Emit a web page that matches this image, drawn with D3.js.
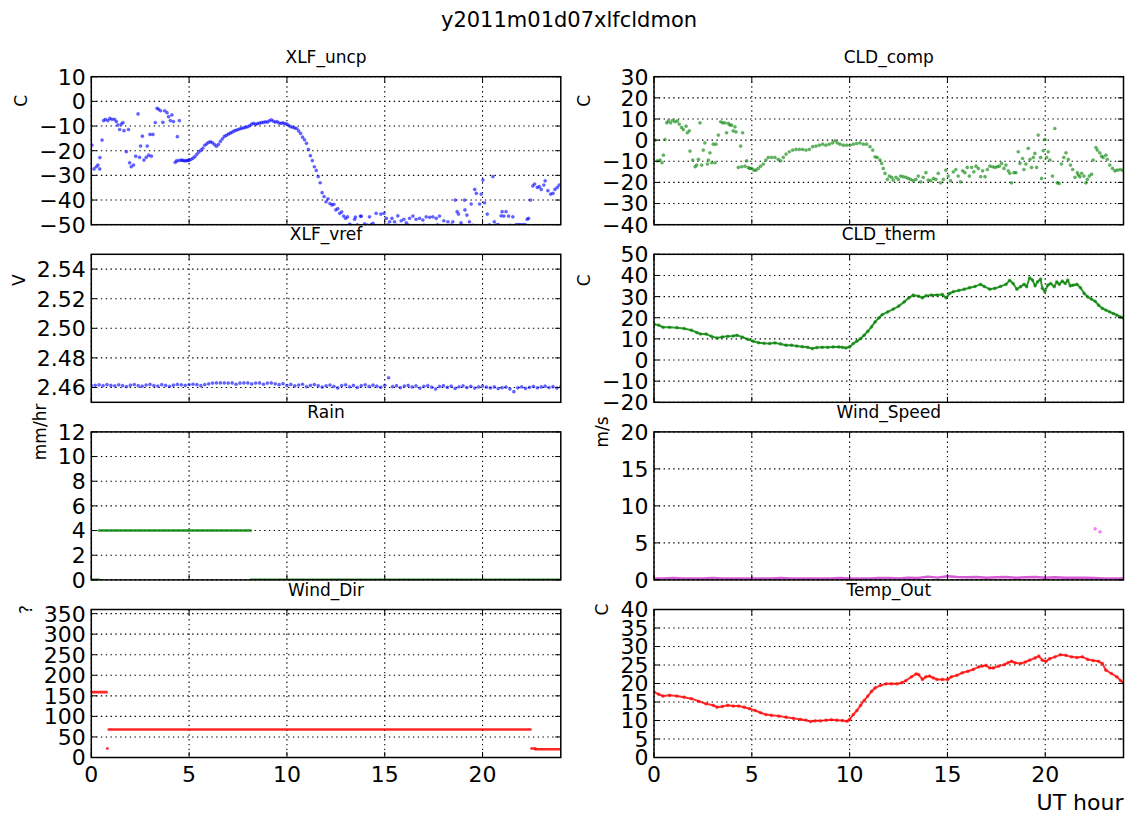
<!DOCTYPE html>
<html>
<head>
<meta charset="utf-8">
<script src="https://cdn.jsdelivr.net/npm/d3@7"></script>
<style>
  body { margin: 0; background: #fff; }
  svg { display: block; font-family: "DejaVu Sans", sans-serif; }
</style>
</head>
<body>
<div id="chart"></div>
<script>
const figTitle = "y2011m01d07xlfcldmon";
const xLabel = "UT hour";
const hourTicks = [0, 5, 10, 15, 20];

// tick values per panel
const xlfUncpTicks = [-50, -40, -30, -20, -10, 0, 10];
const cldCompTicks = [-40, -30, -20, -10, 0, 10, 20, 30];
const xlfVrefTicks = [2.46, 2.48, 2.5, 2.52, 2.54];
const cldThermTicks = [-20, -10, 0, 10, 20, 30, 40, 50];
const rainTicks = [0, 2, 4, 6, 8, 10, 12];
const windSpeedTicks = [0, 5, 10, 15, 20];
const windDirTicks = [0, 50, 100, 150, 200, 250, 300, 350];
const tempOutTicks = [0, 5, 10, 15, 20, 25, 30, 35, 40];

// [hour, value] readings
const xlfUncp = [
  [0.03,-17.7],[0.14,-27.4],[0.26,-26.5],[0.34,-25.8],[0.43,-27.4],[0.44,-22.8],[0.55,-15.7],[0.63,-7.8],
  [0.72,-7.3],[0.85,-7.8],[0.95,-6.9],[1.06,-7.3],[1.19,-7.3],[1.28,-8.2],[1.36,-9.6],[1.45,-11.4],
  [1.53,-9.2],[1.62,-8.6],[1.67,-11.9],[1.79,-20.4],[1.9,-11.4],[1.96,-24.9],[2.04,-26.5],[2.16,-25.8],
  [2.27,-22.2],[2.39,-5.1],[2.47,-22.7],[2.52,-18.1],[2.61,-14.1],[2.69,-23.8],[2.81,-22.7],[2.86,-18.1],
  [2.93,-21.8],[3.0,-13.4],[3.07,-22.2],[3.15,-13.4],[3.27,-8.6],[3.36,-2.8],[3.44,-3.2],[3.54,-3.8],
  [3.66,-8.5],[3.75,-3.8],[3.87,-4.6],[3.95,-6.2],[4.04,-7.8],[4.12,-5.5],[4.2,-8.2],[4.29,-24.7],
  [4.36,-24.1],[4.4,-14.3],[4.47,-24.0],[4.5,-7.8],[4.58,-23.8],[4.65,-23.9],[4.72,-24.0],[4.8,-24.1],
  [4.88,-24.0],[4.95,-23.9],
  [5.0,-23.9],[5.1,-23.5],[5.2,-23.0],[5.3,-22.4],[5.4,-21.4],[5.5,-20.5],[5.6,-19.8],[5.7,-19.0],
  [5.8,-17.8],[5.9,-17.2],[6.0,-16.6],[6.1,-16.4],[6.2,-16.8],[6.3,-17.5],[6.4,-18.2],[6.5,-17.4],
  [6.6,-16.2],[6.7,-15.2],[6.8,-14.2],[6.9,-13.8],[7.0,-13.3],[7.1,-12.9],[7.2,-12.5],[7.3,-12.0],
  [7.4,-11.7],[7.5,-11.4],[7.6,-11.1],[7.7,-10.9],[7.8,-10.7],[7.9,-10.5],[8.0,-10.3],[8.1,-9.8],
  [8.2,-9.2],[8.3,-8.9],[8.4,-9.3],[8.5,-9.0],[8.6,-8.8],[8.7,-8.6],[8.8,-8.5],[8.9,-8.3],
  [9.0,-8.4],[9.1,-7.9],[9.2,-7.5],[9.3,-8.0],[9.4,-8.4],[9.5,-8.2],[9.6,-8.8],[9.7,-8.9],
  [9.8,-8.7],[9.9,-9.0],[10.0,-9.2],[10.1,-9.8],[10.2,-10.3],[10.3,-10.5],[10.4,-10.8],[10.5,-11.0],
  [10.6,-12.0],[10.7,-13.0],[10.8,-14.5],[10.9,-15.6],[11.0,-17.0],[11.1,-19.5],[11.2,-22.0],[11.3,-24.0],
  [11.4,-26.5],[11.5,-28.0],[11.6,-30.5],[11.7,-33.0],[11.8,-37.0],[11.9,-38.6],[12.0,-40.7],[12.1,-39.5],
  [12.2,-41.4],[12.3,-42.0],[12.4,-41.7],[12.5,-44.0],[12.6,-43.5],[12.7,-45.4],[12.8,-44.8],[12.9,-46.5],
  [13.0,-47.4],[13.1,-46.8],[13.2,-49.8],
  [13.46,-47.8],[13.5,-46.9],[13.76,-46.5],[13.8,-46.6],[13.97,-49.7],[14.22,-46.8],[14.4,-49.5],[14.56,-45.4],
  [14.8,-45.7],[14.96,-45.4],[15.08,-47.4],[15.25,-48.8],[15.37,-47.4],[15.5,-48.8],[15.67,-46.4],[15.84,-48.4],
  [15.98,-47.8],[16.1,-49.2],[16.27,-47.4],[16.44,-46.5],[16.6,-47.8],[16.78,-47.4],[16.95,-48.1],[17.12,-46.8],
  [17.3,-47.0],[17.46,-46.8],[17.63,-47.4],[17.8,-46.5],[18.02,-48.4],[18.23,-48.8],[18.48,-48.8],[18.6,-40.0],
  [18.7,-44.7],[18.77,-45.7],[18.9,-49.2],[19.08,-40.0],[19.1,-44.0],[19.2,-46.1],[19.33,-48.8],[19.42,-41.6],
  [19.6,-35.7],[19.68,-37.3],[19.85,-41.6],[19.93,-37.6],[20.02,-31.9],[20.1,-41.1],[20.24,-45.7],[20.53,-30.5],
  [20.6,-48.8],[20.95,-46.4],[21.0,-44.7],[21.09,-46.5],[21.2,-44.7],[21.33,-46.5],[21.55,-46.8],[22.28,-47.8],
  [22.35,-47.4],[22.45,-40.0],[22.57,-34.3],[22.66,-33.5],[22.8,-34.9],[22.9,-34.6],[23.0,-35.7],[23.13,-33.9],
  [23.2,-32.2],[23.34,-36.2],[23.48,-37.6],[23.6,-37.3],[23.7,-35.7],[23.82,-34.9],[23.92,-33.9],
  [13.3,-50.3],[13.6,-50.1],[13.9,-50.5],[14.1,-50.2],[14.3,-50.0],[14.7,-50.4],[15.15,-50.1],[15.6,-50.3],
  [16.2,-50.2],[16.5,-50.6],[17.0,-50.3],[17.7,-50.1],[18.1,-50.4],[18.4,-50.2],[19.5,-50.3],[20.35,-50.1],
  [20.7,-50.2],[20.8,-50.0],[21.4,-50.3],[21.7,-50.1],[21.8,-50.0],[21.9,-50.0],[22.0,-50.1],[22.1,-50.0],[22.2,-50.1]
];

const cldComp = [
  [0.05,0],[0.17,-9.8],[0.31,-9.4],[0.41,-10.7],[0.48,-7.1],[0.56,0.3],[0.65,8.2],[0.73,9.1],
  [0.85,8.2],[0.95,9.4],[1.07,8.7],[1.19,9.1],[1.29,7.6],[1.41,6],[1.5,5],[1.64,6.6],
  [1.7,3.5],[1.8,4.4],[1.84,-5.2],[1.98,-9.4],[2.1,-12.6],[2.18,-11.8],[2.27,-9.1],[2.35,8.2],
  [2.44,-11.8],[2.52,-4.7],[2.6,-1.3],[2.73,-11.3],[2.78,-9.4],[2.86,-6],[2.95,-10.7],[3.03,-1.9],
  [3.12,-10.7],[3.17,-1.9],[3.29,2.4],[3.41,8.7],[3.51,8.2],[3.63,8.2],[3.71,3.5],[3.8,7.9],
  [3.88,7.1],[3.97,7.1],[4.05,4.4],[4.14,6.3],[4.19,3.9],[4.31,-12.9],[4.43,-2.8],[4.48,-12.6],
  [4.53,3.5],[4.65,-12.3],[4.74,-9.8],[4.82,-13],[4.9,-13.4],[4.99,-13.4],[5.11,-14.2],[5.21,-14.2],
  [5.33,-13.4],[5.45,-12.3],[5.59,-11.3],[5.72,-9.4],[5.84,-8.2],[6.01,-8.2],[6.18,-8.2],[6.35,-9.1],
  [6.47,-9.8],[6.61,-8.2],[6.75,-6.6],[6.92,-5.5],[7.09,-4.7],[7.26,-4.4],[7.43,-4.4],[7.6,-4.4],
  [7.77,-4.7],[7.94,-4.4],[8.11,-3.1],[8.28,-2.8],[8.45,-2.4],[8.62,-1.9],[8.79,-2.4],[8.96,-1.9],
  [9.13,-1.3],[9.25,-0.3],[9.37,-1.3],[9.51,-1.9],[9.68,-2.4],[9.85,-2.4],[10.02,-2.4],[10.19,-1.9],
  [10.36,-1.6],[10.53,-1.3],[10.7,-1.9],[10.87,-1.9],[11.04,-3.1],[11.18,-4.7],[11.3,-7.9],[11.41,-8.2],
  [11.55,-9.4],[11.64,-11],[11.72,-13.4],[11.81,-15.7],[11.93,-18.6],[12.03,-17],[12.15,-17.6],[12.23,-18.9],
  [12.37,-17.6],[12.49,-18.6],[12.61,-17],[12.74,-17.3],[12.88,-17.6],[13.0,-18.1],[13.12,-18.6],[13.25,-19.2],
  [13.39,-18.6],[13.51,-17],[13.63,-19.7],[13.76,-17.6],[13.9,-15.4],[14.02,-18.9],[14.14,-19.2],[14.28,-18.1],
  [14.41,-18.6],[14.53,-15.7],[14.65,-20.2],[14.79,-18.6],[14.92,-14.2],[15.04,-17],[15.16,-19.2],[15.3,-15],
  [15.43,-13.9],[15.55,-17],[15.67,-19.7],[15.78,-14.5],[15.89,-15.4],[16.01,-12.9],[16.12,-17],[16.24,-12.9],
  [16.35,-15],[16.46,-12.3],[16.58,-13.4],[16.7,-17.3],[16.8,-14.5],[16.92,-17.3],[17.04,-13.9],[17.17,-12.3],
  [17.31,-12.6],[17.43,-12.9],[17.55,-12.6],[17.65,-12.3],[17.77,-11],[17.89,-13.4],[17.99,-11.8],[18.11,-14.5],
  [18.19,-15.7],[18.28,-20.2],[18.4,-15.4],[18.5,-15.4],[18.62,-5.5],[18.71,-11],[18.84,-8.7],[18.91,-13.9],
  [19.01,-11.3],[19.13,-3.9],[19.22,-9.1],[19.3,-12.9],[19.39,-8.2],[19.47,-6.3],[19.56,-12.9],[19.64,2.4],
  [19.76,-8.2],[19.81,-18.1],[19.9,-5],[19.98,0.3],[20.07,-8.2],[20.15,-5.5],[20.24,-9.4],[20.37,-17],
  [20.49,5.5],[20.61,-20.2],[20.71,-20.5],[20.83,-11.3],[20.95,-8.2],[21.06,-6],[21.18,-9.1],[21.29,-11.8],
  [21.4,-13.9],[21.52,-17.6],[21.64,-15.4],[21.69,-16.5],[21.77,-17.3],[21.86,-15.7],[21.98,-17],[22.08,-20.2],
  [22.15,-18.6],[22.25,-17],[22.37,-16.1],[22.45,-9.4],[22.59,-3.5],[22.66,-4.7],[22.79,-6],[22.88,-7.6],
  [22.96,-8.2],[23.1,-7.1],[23.17,-9.1],[23.3,-11.8],[23.44,-13.4],[23.56,-14.5],[23.68,-14.2],[23.82,-13.9],[23.95,-14.2]
];

// XLF_vref sampled every 0.2 h from 0 to 24
const xlfVref = [
  2.4612, 2.4615, 2.4618, 2.4612, 2.4620, 2.4614, 2.4611, 2.4618, 2.4613, 2.4606, 2.4616, 2.4620,
  2.4612, 2.4609, 2.4617, 2.4621, 2.4613, 2.4610, 2.4619, 2.4614, 2.4608, 2.4616, 2.4621,
  2.4618, 2.4614, 2.4620, 2.4622, 2.4619, 2.4612, 2.4620, 2.4625, 2.4630, 2.4631, 2.4631, 2.4631,
  2.4630, 2.4631, 2.4622, 2.4630, 2.4631, 2.4631, 2.4624, 2.4630,
  2.4631, 2.4622, 2.4630, 2.4631, 2.4625, 2.4619, 2.4626, 2.4613, 2.4621, 2.4611, 2.4617, 2.4622,
  2.4606, 2.4614, 2.4620, 2.4612, 2.4603, 2.4611,
  2.4617, 2.4608, 2.4597, 2.4613, 2.4618, 2.4605, 2.4614, 2.4600, 2.4612, 2.4618, 2.4607, 2.4616,
  2.4609, 2.4601, 2.4615, 2.4666, 2.4606, 2.4612, 2.4599, 2.4610,
  2.4614, 2.4604, 2.4611, 2.4596, 2.4608, 2.4613, 2.4602, 2.4590, 2.4607, 2.4612, 2.4601, 2.4609,
  2.4594, 2.4605, 2.4611, 2.4600, 2.4608, 2.4596, 2.4604, 2.4610,
  2.4602, 2.4597, 2.4604, 2.4593, 2.4599, 2.4603, 2.4590, 2.4572, 2.4598, 2.4604, 2.4594, 2.4601,
  2.4607, 2.4598, 2.4604, 2.4609, 2.4600, 2.4606, 2.4596, 2.4605
];
const xlfVrefHours = d3.range(xlfVref.length).map(i => i * 0.2);

const cldTherm = [
  [0,16.9],[0.24,16.5],[0.46,15.5],[0.8,15.5],[1.17,15.3],[1.54,14.9],[1.91,14.1],[2.19,13],
  [2.38,12.3],[2.66,12.3],[2.94,11.2],[3.22,10.4],[3.49,10.9],[3.77,11.2],[4.05,11.4],[4.24,11.7],
  [4.52,10.8],[4.8,9.8],[5.07,8.9],[5.35,8.2],[5.63,7.9],[5.91,7.8],[6.19,8.1],[6.47,7.6],
  [6.75,7],[7.03,7],[7.3,6.6],[7.58,6.3],[7.86,6],[8.09,5.4],[8.33,5.9],[8.6,6],
  [8.88,6],[9.16,6.2],[9.44,6.2],[9.63,6],[9.81,5.7],[10.0,6.2],[10.19,7.8],[10.37,8.9],
  [10.56,10.1],[10.74,11.7],[10.93,13.6],[11.12,15.7],[11.3,18],[11.49,19.9],[11.67,21.5],[11.95,22.8],
  [12.23,24.1],[12.51,25.5],[12.79,27.5],[13.03,29.4],[13.25,30.7],[13.53,30.2],[13.72,29.4],[13.9,30.4],
  [14.18,30.7],[14.46,30.7],[14.74,31],[14.93,29.4],[15.11,31.5],[15.3,32.3],[15.58,32.9],[15.86,33.5],
  [16.13,34.2],[16.41,34.8],[16.69,35.8],[16.88,34.8],[17.16,33.5],[17.43,33.9],[17.71,34.8],[17.99,35.8],
  [18.18,37.7],[18.36,36.2],[18.55,33.5],[18.74,34.7],[18.92,35.8],[19.05,34.7],[19.2,38.9],[19.35,37.8],
  [19.48,35.1],[19.61,37],[19.76,38.3],[19.85,33.9],[19.98,32.3],[20.13,35.4],[20.28,36.2],[20.46,34.7],
  [20.59,37],[20.72,35.8],[20.87,37.3],[21.02,36.2],[21.15,37.8],[21.28,35.1],[21.43,35.4],[21.62,35.8],
  [21.8,34.2],[21.99,31.5],[22.17,29.9],[22.36,28.8],[22.55,27.8],[22.73,25.9],[22.92,24.4],[23.1,23.6],
  [23.29,22.8],[23.48,22],[23.66,21.2],[23.85,20.4],[24.0,19.9]
];

const tempOut = [
  [0,17.7],[0.24,17.1],[0.46,16.6],[0.8,16.8],[1.17,16.6],[1.54,16.3],[1.91,15.9],[2.29,15.2],
  [2.66,14.5],[3.03,14.1],[3.22,13.6],[3.49,13.8],[3.77,14.1],[4.05,13.9],[4.33,13.9],[4.61,13.6],
  [4.89,13.2],[5.17,12.7],[5.45,12.1],[5.72,11.6],[6.0,11.4],[6.38,11.2],[6.75,10.9],[7.12,10.6],
  [7.49,10.3],[7.77,10.1],[8.01,9.7],[8.23,9.9],[8.51,9.9],[8.79,10.1],[9.07,10.2],[9.35,10.1],
  [9.63,10],[9.87,9.8],[10.0,10.3],[10.19,11.6],[10.37,12.7],[10.56,14.1],[10.74,15.4],[10.93,16.6],
  [11.12,17.9],[11.3,18.8],[11.58,19.5],[11.86,19.9],[12.14,19.9],[12.42,19.9],[12.66,20.2],[12.88,20.8],
  [13.16,21.8],[13.4,22.6],[13.53,22.4],[13.72,21.1],[13.9,21.8],[14.09,22],[14.28,21.5],[14.46,21.1],
  [14.74,21.1],[15.02,21.1],[15.2,21.8],[15.48,22.2],[15.76,22.9],[16.04,23.3],[16.32,23.8],[16.6,24.5],
  [16.78,24.7],[16.97,24.9],[17.16,24.2],[17.34,24.2],[17.62,24.7],[17.9,25.1],[18.09,25.6],[18.27,26],
  [18.46,25.6],[18.74,25.4],[18.98,25.8],[19.2,26.3],[19.48,26.9],[19.67,27.4],[19.85,26.3],[20.04,26],
  [20.22,26.7],[20.5,27.2],[20.78,27.8],[21.06,27.6],[21.34,27.2],[21.62,27],[21.9,27.2],[22.17,26.5],
  [22.45,26.2],[22.73,26],[22.92,25.4],[23.1,23.6],[23.38,22.7],[23.66,21.8],[23.85,20.8],[24.0,20.2]
];

// runs of constant value
const rainStart = [0, 0.4, 8.15];
const rainEnd = [0.4, 8.15, 24];
const rainValue = [0, 4, 0];

const windDirStart = [0, 0.81, 0.89, 22.5, 22.7];
const windDirEnd = [0.78, 0.83, 22.45, 22.7, 24];
const windDirValue = [159, 22, 68, 22, 20];

const windSpeed = [
  [0,0.2],[0.5,0.2],[1,0.25],[1.5,0.2],[2,0.2],[2.5,0.2],[3,0.25],[3.5,0.2],[4,0.2],[4.5,0.2],
  [5,0.2],[5.5,0.2],[6,0.2],[6.5,0.25],[7,0.2],[7.5,0.2],[8,0.2],[8.5,0.2],[9,0.2],[9.5,0.25],
  [10,0.2],[10.5,0.2],[11,0.2],[11.5,0.25],[12,0.25],[12.5,0.2],[13,0.3],[13.5,0.25],[14,0.45],[14.5,0.3],
  [15,0.5],[15.5,0.4],[16,0.35],[16.5,0.4],[17,0.3],[17.5,0.35],[18,0.4],[18.5,0.3],[19,0.35],[19.5,0.4],
  [20,0.3],[20.5,0.35],[21,0.3],[21.5,0.3],[22,0.3],[22.5,0.25],[23,0.2],[23.5,0.2],[24,0.2]
];
const windGusts = [[22.55, 6.9], [22.8, 6.5]];

// layout
const W = 1138, H = 815;
const colLeft = [91.3, 654];
const rowTop = [76.7, 254.3, 431.9, 609.5];
const plotW = 469.5, plotH = 148;
const labelDy = [24, 26, 0, 0];

const svg = d3.select("#chart").append("svg")
  .attr("width", W)
  .attr("height", H);

svg.append("text")
  .attr("x", W / 2)
  .attr("y", 27)
  .attr("text-anchor", "middle")
  .style("font-size", "21px")
  .text(figTitle);

const x = d3.scaleLinear().domain([0, 24]).range([0, plotW]);

function dots(g, data, y, color) {
  g.append("g")
    .selectAll("circle")
    .data(data)
    .join("circle")
    .attr("cx", d => x(d[0]))
    .attr("cy", d => y(d[1]))
    .attr("r", 1.6)
    .attr("fill", color)
    .attr("fill-opacity", 0.6)
    .attr("stroke", color)
    .attr("stroke-opacity", 0.35)
    .attr("stroke-width", 0.6);
}

function trace(g, data, y, color, width) {
  g.append("path")
    .datum(data)
    .attr("fill", "none")
    .attr("stroke", color)
    .attr("stroke-opacity", 0.8)
    .attr("stroke-width", width)
    .attr("stroke-linejoin", "round")
    .attr("d", d3.line().x(d => x(d[0])).y(d => y(d[1])));
}

function runs(g, starts, ends, values, y, color) {
  g.append("g")
    .selectAll("line")
    .data(values)
    .join("line")
    .attr("x1", (d, i) => x(starts[i]))
    .attr("x2", (d, i) => x(ends[i]))
    .attr("y1", d => y(d))
    .attr("y2", d => y(d))
    .attr("stroke", color)
    .attr("stroke-width", 2.6)
    .attr("stroke-opacity", 0.85)
    .attr("stroke-linecap", "round");
}

const panels = [
  { name: "XLF_uncp", unit: "C", col: 0, row: 0, domain: [-50, 10], ticks: xlfUncpTicks, fmt: d3.format("d"),
    plot: (g, y) => dots(g, xlfUncp, y, "#0000ff") },
  { name: "CLD_comp", unit: "C", col: 1, row: 0, domain: [-40, 30], ticks: cldCompTicks, fmt: d3.format("d"),
    plot: (g, y) => dots(g, cldComp, y, "#008000") },
  { name: "XLF_vref", unit: "V", col: 0, row: 1, domain: [2.45, 2.55], ticks: xlfVrefTicks, fmt: d3.format(".2f"),
    plot: (g, y) => dots(g, xlfVref.map((v, i) => [xlfVrefHours[i], v]), y, "#0000ff") },
  { name: "CLD_therm", unit: "C", col: 1, row: 1, domain: [-20, 50], ticks: cldThermTicks, fmt: d3.format("d"),
    plot: (g, y) => { trace(g, cldTherm, y, "#008000", 2); dots(g, cldTherm, y, "#008000"); } },
  { name: "Rain", unit: "mm/hr", col: 0, row: 2, domain: [0, 12], ticks: rainTicks, fmt: d3.format("d"),
    plot: (g, y) => runs(g, rainStart, rainEnd, rainValue, y, "#008000") },
  { name: "Wind_Speed", unit: "m/s", col: 1, row: 2, domain: [0, 20], ticks: windSpeedTicks, fmt: d3.format("d"),
    plot: (g, y) => { trace(g, windSpeed, y, "#cc33cc", 2.4); dots(g, windGusts, y, "#ee33ee"); } },
  { name: "Wind_Dir", unit: "?", col: 0, row: 3, domain: [0, 360], ticks: windDirTicks, fmt: d3.format("d"),
    plot: (g, y) => runs(g, windDirStart, windDirEnd, windDirValue, y, "#ff0000") },
  { name: "Temp_Out", unit: "C", col: 1, row: 3, domain: [0, 40], ticks: tempOutTicks, fmt: d3.format("d"),
    plot: (g, y) => { trace(g, tempOut, y, "#ff0000", 2); dots(g, tempOut, y, "#ff0000"); } }
];

panels.forEach(function (p, idx) {
  const g = svg.append("g")
    .attr("transform", "translate(" + colLeft[p.col] + "," + rowTop[p.row] + ")");
  const y = d3.scaleLinear().domain(p.domain).range([plotH, 0]);

  svg.append("clipPath")
    .attr("id", "clip" + idx)
    .append("rect")
    .attr("width", plotW)
    .attr("height", plotH);

  // dotted grid
  const grid = g.append("g")
    .attr("stroke", "#000")
    .attr("stroke-width", 1.1)
    .attr("stroke-dasharray", "1.4,3.4");
  grid.selectAll(".gx")
    .data(hourTicks)
    .join("line")
    .attr("x1", d => x(d)).attr("x2", d => x(d))
    .attr("y1", 0).attr("y2", plotH);
  grid.selectAll(".gy")
    .data(p.ticks)
    .join("line")
    .attr("x1", 0).attr("x2", plotW)
    .attr("y1", d => y(d)).attr("y2", d => y(d));

  const data = g.append("g").attr("clip-path", "url(#clip" + idx + ")");
  p.plot(data, y);

  // inward ticks on all four sides
  const tk = g.append("g").attr("stroke", "#000").attr("stroke-width", 1);
  hourTicks.forEach(function (t) {
    tk.append("line").attr("x1", x(t)).attr("x2", x(t)).attr("y1", plotH).attr("y2", plotH - 5.6);
    tk.append("line").attr("x1", x(t)).attr("x2", x(t)).attr("y1", 0).attr("y2", 5.6);
  });
  p.ticks.forEach(function (t) {
    tk.append("line").attr("x1", 0).attr("x2", 5.6).attr("y1", y(t)).attr("y2", y(t));
    tk.append("line").attr("x1", plotW).attr("x2", plotW - 5.6).attr("y1", y(t)).attr("y2", y(t));
  });

  g.append("rect")
    .attr("width", plotW)
    .attr("height", plotH)
    .attr("fill", "none")
    .attr("stroke", "#000")
    .attr("stroke-width", 1.5);

  const ytl = g.append("g")
    .attr("class", "ytl")
    .style("font-size", "22px")
    .attr("text-anchor", "end");
  ytl.selectAll("text")
    .data(p.ticks)
    .join("text")
    .attr("x", -5.6)
    .attr("y", d => y(d))
    .attr("dy", "0.36em")
    .text(d => p.fmt(d));

  if (p.row === 3) {
    g.append("g")
      .style("font-size", "22px")
      .attr("text-anchor", "middle")
      .selectAll("text")
      .data(hourTicks)
      .join("text")
      .attr("x", d => x(d))
      .attr("y", plotH + 24)
      .text(d => d);
  }

  g.append("text")
    .attr("x", plotW / 2)
    .attr("y", -14)
    .attr("text-anchor", "middle")
    .style("font-size", "17px")
    .text(p.name);

  const left = ytl.node().getBBox().x;
  g.append("text")
    .attr("transform", "translate(" + (left - 12) + "," + labelDy[p.row] + ") rotate(-90)")
    .attr("text-anchor", "middle")
    .style("font-size", "17px")
    .text(p.unit);
});

svg.append("text")
  .attr("x", colLeft[1] + plotW)
  .attr("y", 810)
  .attr("text-anchor", "end")
  .style("font-size", "22px")
  .text(xLabel);
</script>
</body>
</html>
